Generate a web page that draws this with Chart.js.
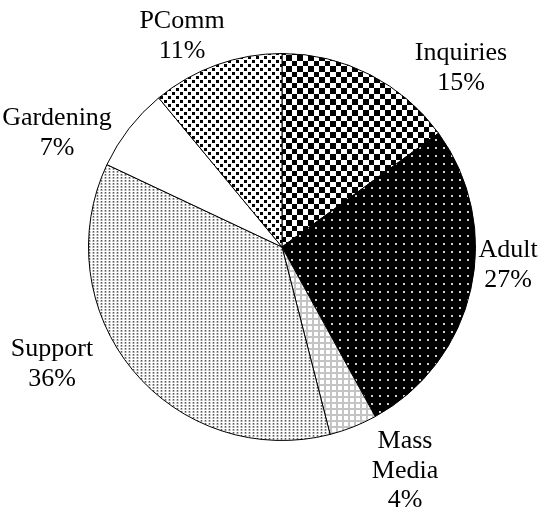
<!DOCTYPE html>
<html>
<head>
<meta charset="utf-8">
<script src="https://cdn.jsdelivr.net/npm/chart.js@4"></script>
<style>
    html, body { margin: 0; padding: 0; background: #fff; }
    canvas { display: block; }
</style>
</head>
<body>
<canvas id="pieChart" width="539" height="514"></canvas>
<script>
// Program share by area
const categories = ['Inquiries', 'Adult', 'Mass Media', 'Support', 'Gardening', 'PComm'];
const shares = [15, 27, 4, 36, 7, 11];

// Where each category label sits (text centre x, first baseline y)
const labelAnchors = [
    { x: 461, y: 60, wrap: false },
    { x: 508, y: 257, wrap: false },
    { x: 405, y: 448, wrap: true },
    { x: 52, y: 356, wrap: false },
    { x: 57, y: 125, wrap: false },
    { x: 182, y: 28, wrap: false }
];

// Small tile canvases used as fill patterns
function makePattern(w, h, paint) {
    const c = document.createElement('canvas');
    c.width = w;
    c.height = h;
    const g = c.getContext('2d');
    g.fillStyle = '#fff';
    g.fillRect(0, 0, w, h);
    paint(g);
    return document.getElementById('pieChart').getContext('2d').createPattern(c, 'repeat');
}

const fills = [
    // checkerboard
    makePattern(11, 11, g => {
        g.fillStyle = '#000';
        g.fillRect(0, 0, 6, 6);
        g.fillRect(6, 6, 5, 5);
    }),
    // black with white dots
    makePattern(8, 8, g => {
        g.fillStyle = '#000';
        g.fillRect(0, 0, 8, 8);
        g.fillStyle = '#d0d0d0';
        g.fillRect(3, 3, 2, 2);
    }),
    // light grid
    makePattern(6, 6, g => {
        g.fillStyle = '#c4c4c4';
        g.fillRect(0, 0, 6, 2);
        g.fillRect(0, 0, 2, 6);
    }),
    // fine grey stipple
    makePattern(4, 3, g => {
        g.fillStyle = '#d0d0d0';
        g.fillRect(0, 0, 3, 2);
        g.fillStyle = '#555';
        g.fillRect(1, 0, 1, 1);
        g.fillStyle = '#999';
        g.fillRect(1, 1, 1, 1);
    }),
    '#ffffff',
    // staggered black squares
    makePattern(8, 8, g => {
        g.fillStyle = '#000';
        g.fillRect(0, 0, 3, 3);
        g.fillRect(4, 4, 3, 3);
    })
];

const sliceLabels = {
    id: 'sliceLabels',
    afterDraw(chart) {
        const ctx = chart.ctx;
        ctx.save();
        ctx.font = '26px "Liberation Serif", "Times New Roman", serif';
        ctx.fillStyle = '#000';
        ctx.textAlign = 'center';
        ctx.textBaseline = 'alphabetic';
        categories.forEach((name, i) => {
            const a = labelAnchors[i];
            const lines = a.wrap ? name.split(' ') : [name];
            lines.push(shares[i] + '%');
            lines.forEach((line, j) => {
                ctx.fillText(line, a.x, a.y + j * 29.5);
            });
        });
        ctx.restore();
    }
};

new Chart(document.getElementById('pieChart'), {
    type: 'pie',
    data: {
        labels: categories,
        datasets: [{
            data: shares,
            backgroundColor: fills,
            borderColor: '#000',
            borderWidth: 1
        }]
    },
    options: {
        responsive: false,
        animation: false,
        layout: {
            padding: { left: 88, top: 53, right: 63, bottom: 73 }
        },
        plugins: {
            legend: { display: false },
            tooltip: { enabled: false }
        }
    },
    plugins: [sliceLabels]
});
</script>
</body>
</html>
